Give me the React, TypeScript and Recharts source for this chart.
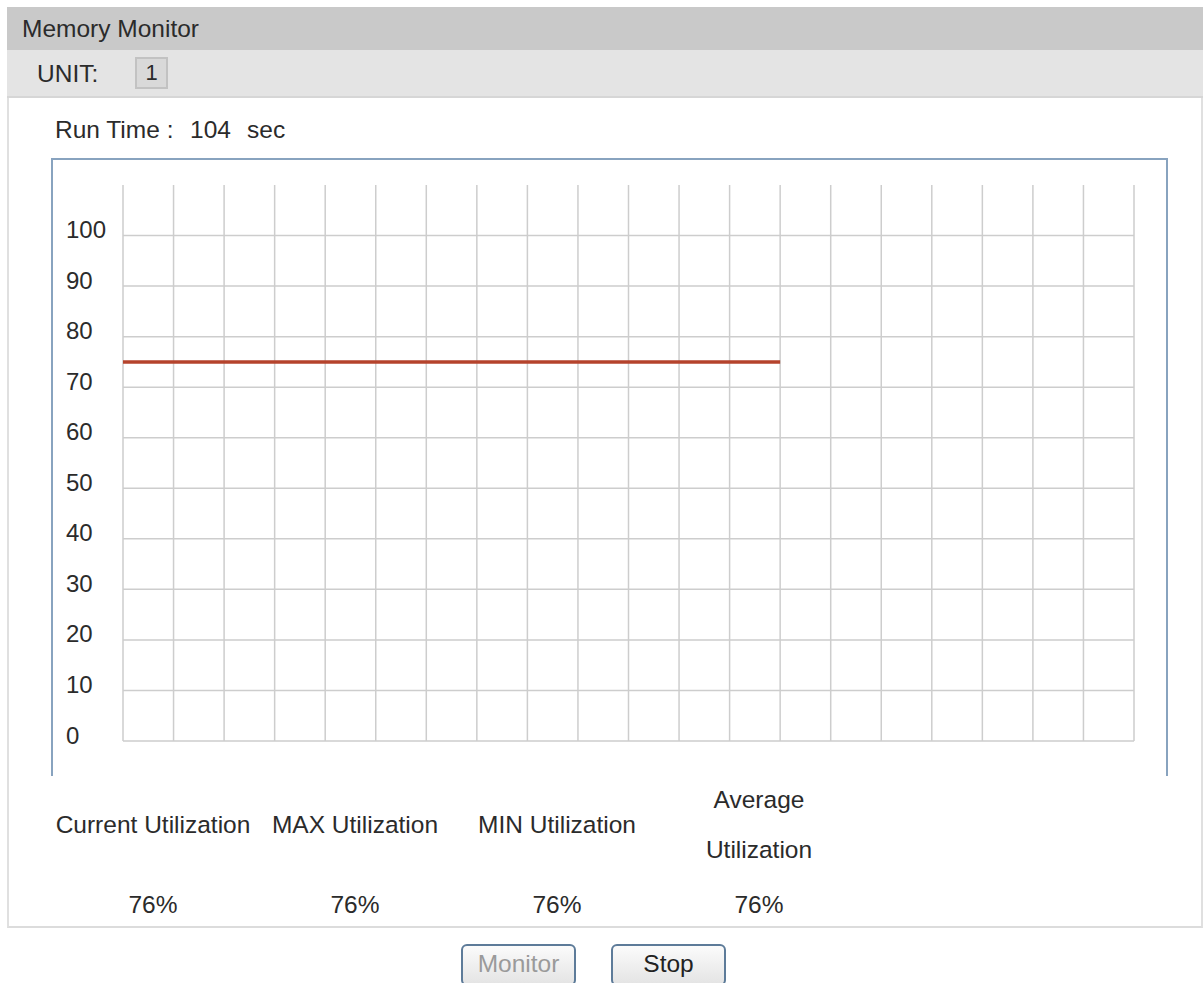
import React from "react";
import {
  LineChart,
  Line,
  XAxis,
  YAxis,
  CartesianGrid,
} from "recharts";

// ── Data ────────────────────────────────────────────────

const SAMPLES = [0, 1, 2, 3, 4, 5, 6, 7, 8, 9, 10, 11, 12, 13];
const USAGE = [75, 75, 75, 75, 75, 75, 75, 75, 75, 75, 75, 75, 75, 75];
const X_TICKS = [0, 1, 2, 3, 4, 5, 6, 7, 8, 9, 10, 11, 12, 13, 14, 15, 16, 17, 18, 19, 20];
const Y_TICKS = [0, 10, 20, 30, 40, 50, 60, 70, 80, 90, 100];

const STAT_LABELS = ["Current Utilization", "MAX Utilization", "MIN Utilization", "Average\nUtilization"];
const STAT_VALUES = ["76%", "76%", "76%", "76%"];

const RUN_TIME = 104;

const data = SAMPLES.map((s, i) => ({ t: s, usage: USAGE[i] }));

// ── Styles ──────────────────────────────────────────────

const FONT = "'Liberation Sans', Arial, sans-serif";
const TEXT = "#2b2b2b";
const FS = 24.5;

function YTick({ y, payload }: any) {
  return (
    <text
      x={14}
      y={y - 6}
      textAnchor="start"
      dominantBaseline="central"
      fontSize={24}
      fontFamily={FONT}
      fill={TEXT}
    >
      {payload.value}
    </text>
  );
}

const btn: React.CSSProperties = {
  position: "absolute",
  top: 944,
  height: 42,
  width: 115,
  boxSizing: "border-box",
  border: "2px solid #5d7b99",
  borderRadius: 6,
  background: "linear-gradient(#fbfbfb, #e4e4e4)",
  fontFamily: FONT,
  fontSize: FS,
  display: "flex",
  alignItems: "center",
  justifyContent: "center",
  paddingBottom: 2,
};

export default function App() {
  return (
    <div
      style={{
        position: "absolute",
        left: 0,
        top: 0,
        width: 1203,
        height: 983,
        background: "#fff",
        overflow: "hidden",
        fontFamily: FONT,
        color: TEXT,
      }}
    >
      {/* header */}
      <div
        style={{
          position: "absolute",
          left: 7,
          top: 7,
          width: 1196,
          height: 43,
          background: "#c9c9c9",
          fontSize: FS,
          lineHeight: "43px",
          paddingLeft: 15,
          boxSizing: "border-box",
        }}
      >
        Memory Monitor
      </div>
      <div
        style={{
          position: "absolute",
          left: 7,
          top: 50,
          width: 1196,
          height: 48,
          background: "#e4e4e4",
          borderBottom: "2px solid #d6d6d6",
          boxSizing: "border-box",
        }}
      >
        <span style={{ position: "absolute", left: 30, top: 0, lineHeight: "48px", fontSize: FS }}>
          UNIT:
        </span>
        <span
          style={{
            position: "absolute",
            left: 128,
            top: 7,
            width: 33,
            height: 32,
            boxSizing: "border-box",
            background: "#d9d9d9",
            border: "2px solid #c2c2c2",
            textAlign: "center",
            lineHeight: "27px",
            fontSize: 22,
          }}
        >
          1
        </span>
      </div>

      {/* body */}
      <div
        style={{
          position: "absolute",
          left: 7,
          top: 98,
          width: 1196,
          height: 830,
          boxSizing: "border-box",
          borderLeft: "2px solid #e0e0e0",
          borderRight: "2px solid #e0e0e0",
          borderBottom: "2px solid #dcdcdc",
        }}
      />

      <div style={{ position: "absolute", left: 55, top: 116, fontSize: FS, lineHeight: "28px" }}>
        Run Time :
      </div>
      <div style={{ position: "absolute", left: 190, top: 116, fontSize: FS, lineHeight: "28px" }}>
        {RUN_TIME}
      </div>
      <div style={{ position: "absolute", left: 247, top: 116, fontSize: FS, lineHeight: "28px" }}>
        sec
      </div>

      {/* chart frame */}
      <div
        style={{
          position: "absolute",
          left: 51,
          top: 158,
          width: 1117,
          height: 618,
          boxSizing: "border-box",
          borderTop: "2px solid #88a3bf",
          borderLeft: "2px solid #88a3bf",
          borderRight: "2px solid #88a3bf",
        }}
      />
      <div style={{ position: "absolute", left: 52, top: 159 }}>
        <LineChart
          width={1114}
          height={616}
          data={data}
          margin={{ top: 26, right: 32, left: 0, bottom: 34 }}
        >
          <CartesianGrid
            stroke="#cdcdcd"
            strokeWidth={1.5}
            horizontalValues={Y_TICKS}
            verticalValues={X_TICKS}
          />
          <XAxis
            dataKey="t"
            type="number"
            domain={[0, 20]}
            ticks={X_TICKS}
            hide
          />
          <YAxis
            type="number"
            domain={[0, 110]}
            ticks={Y_TICKS}
            width={71}
            axisLine={false}
            tickLine={false}
            tick={<YTick />}
            interval={0}
          />
          <Line
            type="linear"
            dataKey="usage"
            stroke="#b5432c"
            strokeWidth={3.5}
            dot={false}
            isAnimationActive={false}
          />
        </LineChart>
      </div>

      {/* stats */}
      {STAT_LABELS.map((label, i) => (
        <div
          key={"l" + i}
          style={{
            position: "absolute",
            left: 52 + i * 202,
            top: 775,
            width: 202,
            height: 100,
            display: "flex",
            alignItems: "center",
            justifyContent: "center",
            textAlign: "center",
            whiteSpace: "pre",
            fontSize: FS,
            lineHeight: "50px",
          }}
        >
          {label}
        </div>
      ))}
      {STAT_VALUES.map((v, i) => (
        <div
          key={"v" + i}
          style={{
            position: "absolute",
            left: 52 + i * 202,
            top: 885,
            width: 202,
            height: 40,
            textAlign: "center",
            fontSize: FS,
            lineHeight: "40px",
          }}
        >
          {v}
        </div>
      ))}

      {/* buttons */}
      <div style={{ ...btn, left: 461, color: "#9a9a9a" }}>Monitor</div>
      <div style={{ ...btn, left: 611, color: "#222" }}>Stop</div>
    </div>
  );
}
